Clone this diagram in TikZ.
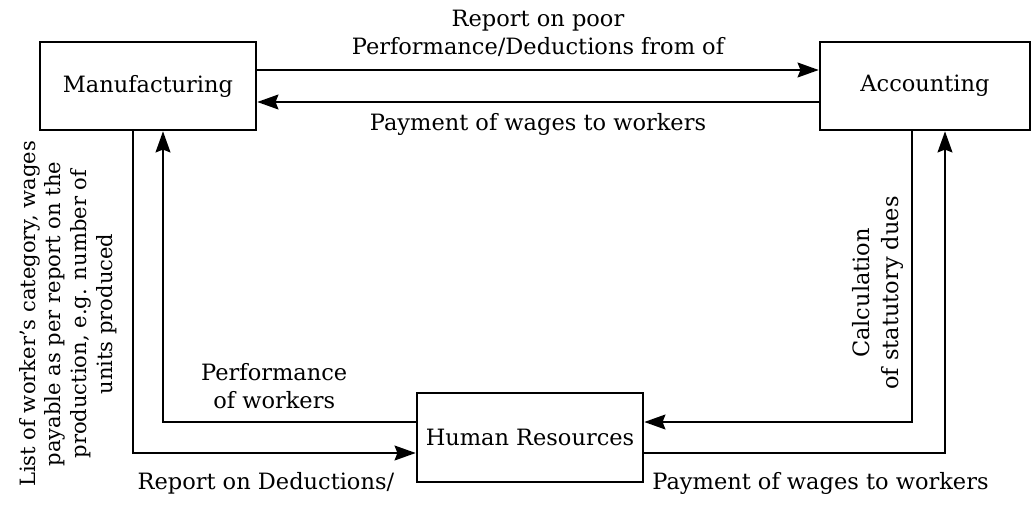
\documentclass[tikz,border=0pt]{standalone}
\usepackage{fontspec}
\setmainfont{DejaVu Serif}
\usepackage{tikz}
\usetikzlibrary{arrows.meta}
\tikzset{
unit/.style={draw, line width=1.8pt, minimum height=2.2cm, inner sep=0pt, font=\fontsize{16}{20}\selectfont},
flow/.style={line width=1.8pt, -{Stealth[length=15pt,width=10.5pt,inset=2pt]}},
note/.style={font=\fontsize{16}{20}\selectfont, align=center, inner sep=0pt},
sidenote/.style={font=\fontsize{15}{18.3}\selectfont, align=center, inner sep=0pt, rotate=90}}

\begin{document}
\begin{tikzpicture}

                \useasboundingbox (0,0) rectangle (25.775,12.6);

                \node[unit, minimum width=5.4cm] (mfg) at (3.7,10.45) {Manufacturing};
                \node[unit, minimum width=5.25cm] (acc) at (23.125,10.45) {Accounting};
                \node[unit, minimum width=5.65cm, minimum height=2.225cm] (hr) at (13.25,1.6625) {Human Resources};

                \draw[flow] ([yshift=0.4cm]mfg.east) -- ([yshift=0.4cm]acc.west) node[midway, above=0.3cm, note] {Report on poor\\Performance/Deductions from of};
                \draw[flow] ([yshift=-0.4cm]acc.west) -- ([yshift=-0.4cm]mfg.east) node[midway, below=0.25cm, note] {Payment of wages to workers};

                \draw[flow] ([xshift=-0.375cm]mfg.south) |- ([yshift=-0.3875cm]hr.west) node[pos=0.735, below=0.45cm, note] {Report on Deductions/};
                \draw[flow] ([yshift=0.3875cm]hr.west) -| ([xshift=0.375cm]mfg.south) node[pos=0.28, above=0.3cm, note] {Performance\\of workers};
                \draw[flow] ([xshift=-0.325cm]acc.south) |- ([yshift=0.3875cm]hr.east);
                \draw[flow] ([yshift=-0.3875cm]hr.east) -| ([xshift=0.5cm]acc.south) node[pos=0.293, below=0.45cm, note] {Payment of wages to workers};

                \node[sidenote] (wagelist) at (1.7,4.75) {List of worker's category, wages\\payable as per report on the\\production, e.g. number of\\units produced};
                \node[note, rotate=90] (statutory) at (21.95,5.275) {Calculation\\of statutory dues};

            \end{tikzpicture}
\end{document}
